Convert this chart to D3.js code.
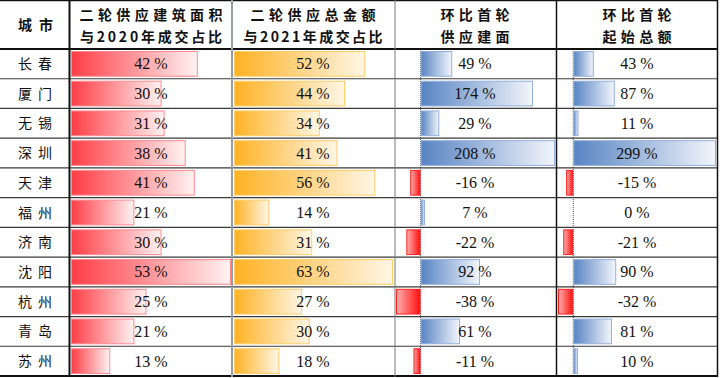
<!DOCTYPE html>
<html>
<head>
<meta charset="utf-8">
<script src="https://cdn.jsdelivr.net/npm/d3@7"></script>
<style>
  html, body { margin: 0; padding: 0; background: #fff; }
  svg { display: block; }
  .num { font-family: "Liberation Serif", "DejaVu Serif", serif; font-size: 16px; fill: #111; }
  .city { font-family: "Noto Sans CJK SC", sans-serif; font-size: 14px; fill: #111; }
  .head { font-family: "Noto Sans CJK SC", sans-serif; font-size: 14px; font-weight: 600; fill: #111; }
</style>
</head>
<body>
<svg id="chart" width="720" height="378"></svg>
<script>
// table data
const cities    = ['长春', '厦门', '无锡', '深圳', '天津', '福州', '济南', '沈阳', '杭州', '青岛', '苏州'];
const areaShare = [42, 30, 31, 38, 41, 21, 30, 53, 25, 21, 13];   // 二轮供应建筑面积 / 2020 成交
const amtShare  = [52, 44, 34, 41, 56, 14, 31, 63, 27, 30, 18];   // 二轮供应总金额 / 2021 成交
const areaRing  = [49, 174, 29, 208, -16, 7, -22, 92, -38, 61, -11];
const amtRing   = [43, 87, 11, 299, -15, 0, -21, 90, -32, 81, 10];
const headers = [
  ['城市'],
  ['二轮供应建筑面积', '与2020年成交占比'],
  ['二轮供应总金额', '与2021年成交占比'],
  ['环比首轮', '供应建面'],
  ['环比首轮', '起始总额'],
];
// text widths of each header line (px)
const headW = [[35], [143, 142], [125, 139], [69, 69], [69, 69]];

const svg = d3.select('#chart');
const defs = svg.append('defs');

const colX = [0, 69.5, 232, 395, 556.5, 717.5];   // column edges
const headH = 49, bottom = 376;

const y = d3.scaleBand().domain(cities).range([headH, bottom]).padding(0);

// gradient per colour
function grad(id, from, to) {
  const g = defs.append('linearGradient').attr('id', id).attr('x1', 0).attr('x2', 1).attr('y1', 0).attr('y2', 0);
  g.append('stop').attr('offset', '0%').attr('stop-color', from);
  g.append('stop').attr('offset', '100%').attr('stop-color', to);
}
grad('g-red', '#ff3d46', '#fff2f2');
grad('g-org', '#ffb224', '#fff6e6');
grad('g-blue', '#5884c3', '#f2f5fb');
grad('g-neg', '#ffb0b0', '#ff1010');

const columns = [
  { vals: areaShare, x: d3.scaleLinear().domain([0, d3.max(areaShare)]).range([71, 231]),
    fill: 'url(#g-red)', stroke: '#ff8a8f', cx: 151 },
  { vals: amtShare, x: d3.scaleLinear().domain([0, d3.max(amtShare)]).range([234, 393]),
    fill: 'url(#g-org)', stroke: '#ffcd68', cx: 313 },
  { vals: areaRing, x: d3.scaleLinear().domain(d3.extent(areaRing)).range([396, 555]),
    fill: 'url(#g-blue)', stroke: '#93b0dc', cx: 475 },
  { vals: amtRing, x: d3.scaleLinear().domain(d3.extent(amtRing)).range([558, 716]),
    fill: 'url(#g-blue)', stroke: '#93b0dc', cx: 637 },
];

// axis dotted lines for the ring columns
columns.slice(2).forEach(c => {
  svg.append('line')
    .attr('x1', c.x(0)).attr('x2', c.x(0))
    .attr('y1', headH).attr('y2', bottom)
    .attr('stroke', '#555').attr('stroke-width', 1).attr('stroke-dasharray', '1,1');
});

// bars + labels
columns.forEach(c => {
  const rows = c.vals.map((v, i) => ({ v, city: cities[i] }));
  svg.append('g').selectAll('rect')
    .data(rows)
    .enter().append('rect')
      .attr('x', d => Math.min(c.x(0), c.x(d.v)) + 0.5)
      .attr('y', d => y(d.city) + 2.5)
      .attr('width', d => Math.max(0.5, Math.abs(c.x(d.v) - c.x(0)) - 1))
      .attr('height', y.bandwidth() - 5)
      .attr('fill', d => d.v < 0 ? 'url(#g-neg)' : c.fill)
      .attr('stroke', d => d.v < 0 ? '#ff2020' : c.stroke)
      .attr('stroke-width', 1)
      .attr('display', d => d.v === 0 ? 'none' : null);

  svg.append('g').selectAll('text')
    .data(rows)
    .enter().append('text')
      .attr('class', 'num')
      .attr('x', c.cx)
      .attr('y', d => y(d.city) + y.bandwidth() / 2 + 5.5)
      .attr('text-anchor', 'middle')
      .text(d => `${d.v} %`);
});

// city names
svg.append('g').selectAll('text')
  .data(cities)
  .enter().append('text')
    .attr('class', 'city')
    .attr('x', 18)
    .attr('y', d => y(d) + y.bandwidth() / 2 + 5)
    .attr('textLength', 34).attr('lengthAdjust', 'spacing')
    .text(d => d);

// headers
headers.forEach((lines, i) => {
  const cx = i === 0 ? 35.5 : columns[i - 1].cx;
  const ys = lines.length === 1 ? [30] : [19.5, 41.5];
  lines.forEach((t, j) => {
    const w = headW[i][j];
    svg.append('text')
      .attr('class', 'head')
      .attr('x', cx - w / 2)
      .attr('y', ys[j])
      .attr('textLength', w).attr('lengthAdjust', 'spacing')
      .text(t);
  });
});

// grid: row separators
const rowEdges = cities.map(c => y(c)).slice(1);
svg.append('g').selectAll('line')
  .data(rowEdges)
  .enter().append('line')
    .attr('x1', 0).attr('x2', colX[5])
    .attr('y1', d => d).attr('y2', d => d)
    .attr('stroke', '#3a3a3a').attr('stroke-width', 1.2);

svg.append('line').attr('x1', 0).attr('x2', colX[5]).attr('y1', 0.5).attr('y2', 0.5)
  .attr('stroke', '#111').attr('stroke-width', 1.5);
svg.append('line').attr('x1', 0).attr('x2', colX[5]).attr('y1', headH).attr('y2', headH)
  .attr('stroke', '#111').attr('stroke-width', 2);
svg.append('line').attr('x1', 0).attr('x2', colX[5]).attr('y1', bottom).attr('y2', bottom)
  .attr('stroke', '#111').attr('stroke-width', 2);

// vertical lines
const vStyles = [
  { x: colX[1], c: '#111', w: 2 },
  { x: colX[2], c: '#9a9ea6', w: 2 },
  { x: colX[3], c: '#777', w: 1 },
  { x: colX[4], c: '#111', w: 1.5 },
  { x: colX[5], c: '#111', w: 1.5 },
];
vStyles.forEach(s => {
  svg.append('line').attr('x1', s.x).attr('x2', s.x).attr('y1', 0).attr('y2', bottom + 1)
    .attr('stroke', s.c).attr('stroke-width', s.w);
});
</script>
</body>
</html>
